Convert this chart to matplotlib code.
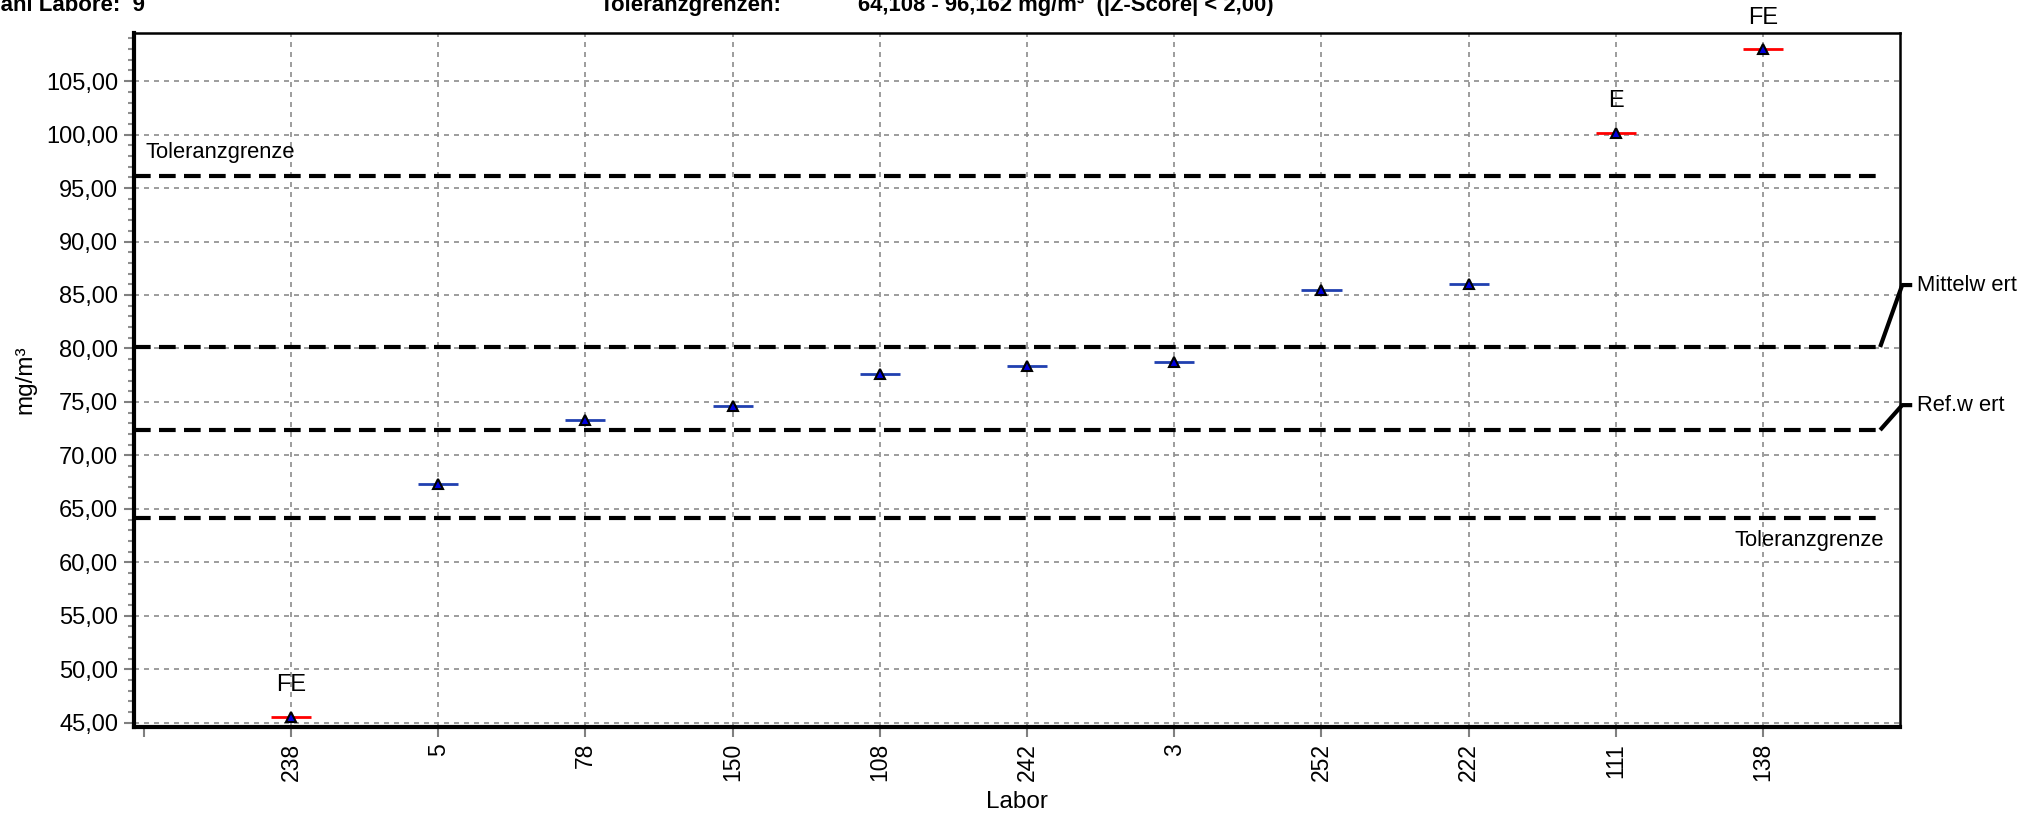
import matplotlib
matplotlib.use("Agg")
import matplotlib.pyplot as plt
from matplotlib.ticker import FuncFormatter, MultipleLocator

plt.rcParams['font.family'] = ['Liberation Sans', 'DejaVu Sans']

# ---------------- data ----------------
labs = ['238', '5', '78', '150', '108', '242', '3', '252', '222', '111', '138']
values = [45.55, 67.35, 73.3, 74.63, 77.6, 78.39, 78.75, 85.42, 86.0, 100.17, 107.96]
flags = ['FE', '', '', '', '', '', '', '', '', 'E', 'FE']

tol_low = 64.108
tol_high = 96.162
mittelwert = 80.135
refwert = 72.37

header_left = 'Anzahl Labore:  9'
header_mid = 'Toleranzgrenzen:'
header_right = '64,108 - 96,162 mg/m³  (|Z-Score| < 2,00)'

# ---------------- figure ----------------
W, H = 2033, 815
fig = plt.figure(figsize=(W / 100, H / 100), dpi=100)
ax = fig.add_axes([134 / W, 1 - 727 / H, (1900 - 134) / W, (727 - 33) / H])

xpos = list(range(1, len(labs) + 1))
ax.set_xlim(-0.067, 11.93)
ax.set_ylim(44.6, 109.5)

# grid
ax.yaxis.set_major_locator(MultipleLocator(5))
ax.yaxis.set_minor_locator(MultipleLocator(1))
ax.grid(axis='y', which='major', color='#8c8c8c', linestyle=(0, (3, 3)), linewidth=1.2, zorder=0)
ax.vlines(xpos, 44.6, 109.5, colors='#8c8c8c', linestyles=(0, (3, 3)), linewidth=1.2, zorder=0)

# reference lines
line_end = 11.795
for yv in (tol_high, mittelwert, refwert, tol_low):
    ax.hlines(yv, -0.067, line_end, colors='black', linestyles=(0, (4, 2)), linewidth=3, zorder=2)

ax.text(0.008, 98.3, 'Toleranzgrenze', fontsize=15.8, va='center', ha='left')
ax.text(11.822, 62.0, 'Toleranzgrenze', fontsize=15.8, va='center', ha='right')

# leader lines to labels outside
for yv, ylab, txt in ((mittelwert, 85.93, 'Mittelw ert'), (refwert, 74.7, 'Ref.w ert')):
    ax.plot([line_end, 11.945, 12.013], [yv, ylab, ylab], color='black', linewidth=3,
            clip_on=False, solid_capstyle='butt', zorder=3)
    ax.text(12.047, ylab, txt, fontsize=15.8, va='center', ha='left', clip_on=False)

# data marks
hw = 0.136
for x, v, f in zip(xpos, values, flags):
    col = 'red' if f else '#2040b0'
    ax.hlines(v, x - hw, x + hw, colors=col, linewidth=2, zorder=4)
    ax.plot(x, v, marker='^', markersize=7.5, markerfacecolor='#0000e0',
            markeredgecolor='black', markeredgewidth=1.5, linestyle='none', zorder=5, clip_on=False)
    if f:
        ax.annotate(f, (x, v), xytext=(0, 23), textcoords='offset points',
                    ha='center', va='center', fontsize=17, annotation_clip=False)

# ticks
ax.set_xticks([0] + xpos)
ax.set_xticklabels([''] + labs, rotation=90, fontsize=16.5)
ax.yaxis.set_major_formatter(FuncFormatter(lambda v, p: f'{v:.2f}'.replace('.', ',')))
ax.tick_params(axis='y', which='major', length=7.5, width=1.5, color='#808080', labelsize=17, pad=4)
ax.tick_params(axis='y', which='minor', length=4.5, width=1.5, color='#909090')
ax.tick_params(axis='x', which='major', length=7.5, width=1.5, color='#808080', pad=4)

ax.set_xlabel('Labor', fontsize=17.5)
ax.xaxis.set_label_coords(0.5, -(802 - 727) / (727 - 33))
ax.set_ylabel('mg/m³', fontsize=17.5)
ax.yaxis.set_label_coords(-(134 - 25) / (1900 - 134), 0.5)
ax.yaxis.label.set_va('center')
ax.xaxis.label.set_va('center')

for s in ('left', 'bottom'):
    ax.spines[s].set_linewidth(3)
for s in ('top', 'right'):
    ax.spines[s].set_linewidth(1.8)

# header (partly clipped at the top of the image)
fig.text(145 / W, 1 - 11 / H, header_left, ha='right', va='baseline', fontsize=16, fontweight='bold')
fig.text(782 / W, 1 - 11 / H, header_mid, ha='right', va='baseline', fontsize=16, fontweight='bold')
fig.text(858 / W, 1 - 11 / H, header_right, ha='left', va='baseline', fontsize=15.8, fontweight='bold')

fig.savefig('out.png', dpi=100)
